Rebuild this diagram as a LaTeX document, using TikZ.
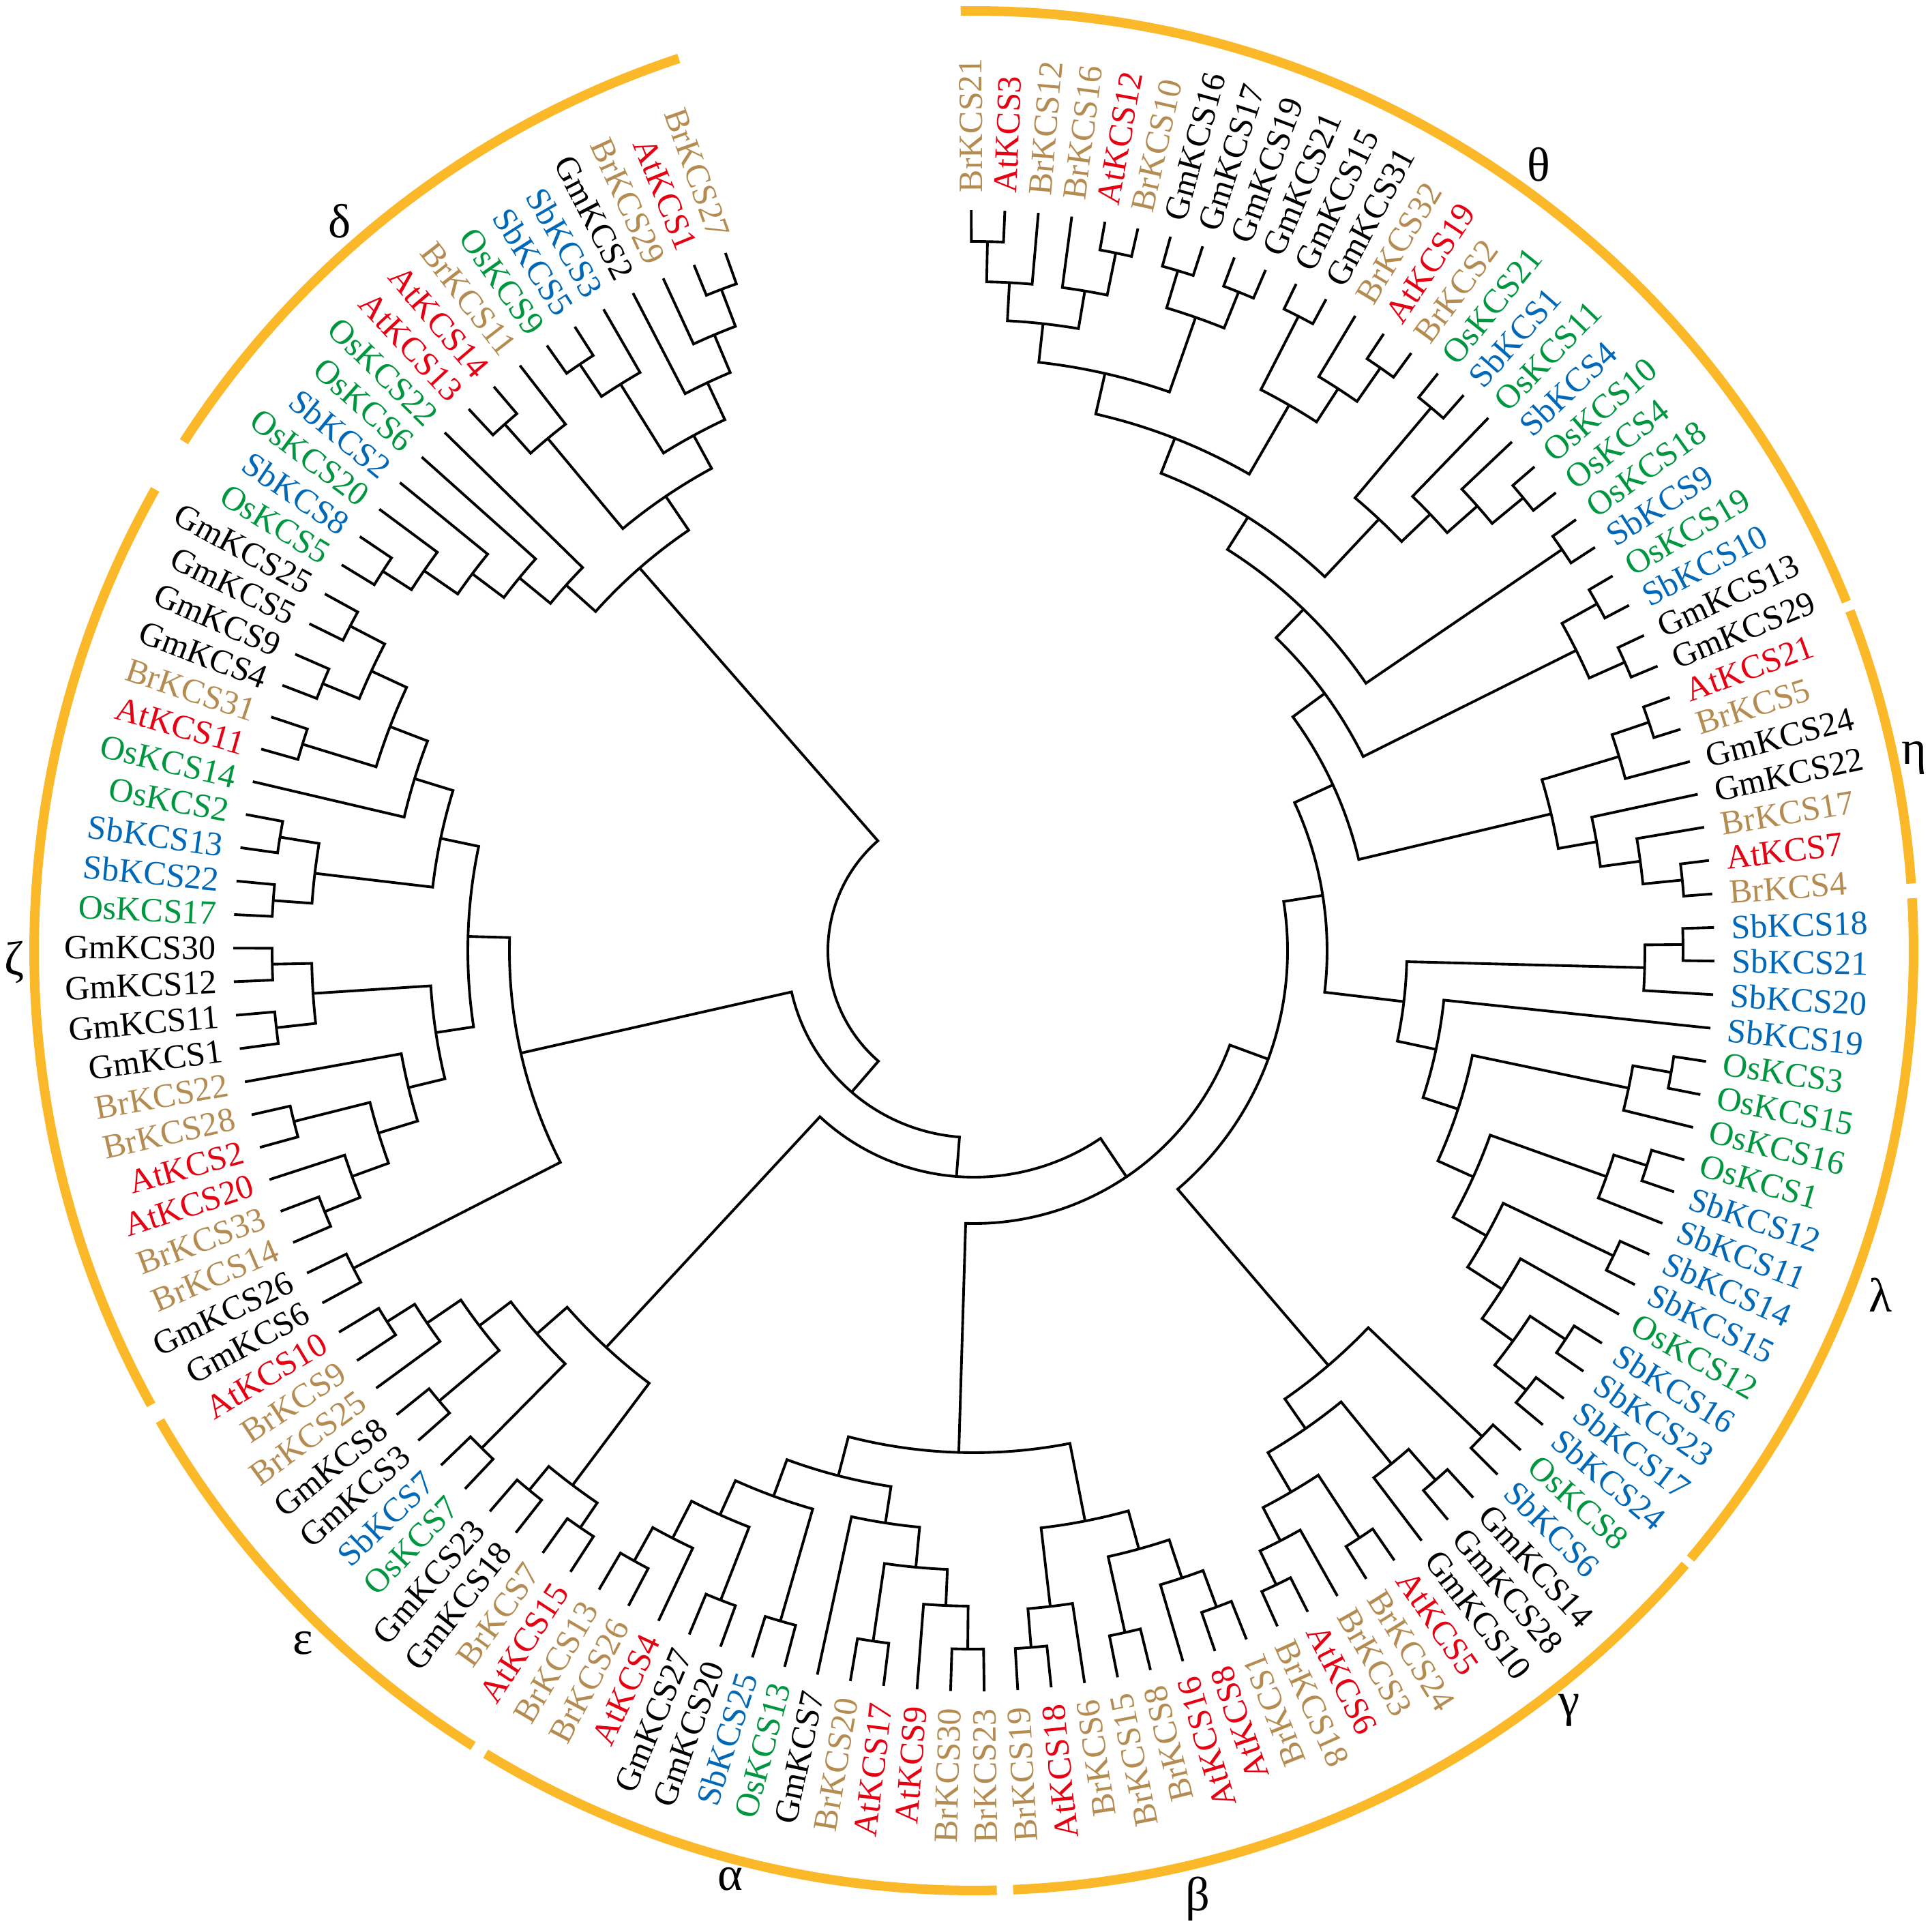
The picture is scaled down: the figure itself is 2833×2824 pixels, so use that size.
\documentclass[tikz,border=0pt]{standalone}
\usepackage{fontspec}
\setmainfont{Liberation Serif}
\definecolor{at}{RGB}{230,0,18}
\definecolor{br}{RGB}{180,140,82}
\definecolor{gm}{RGB}{0,0,0}
\definecolor{os}{RGB}{0,150,64}
\definecolor{sb}{RGB}{0,104,183}
\definecolor{ringc}{RGB}{251,184,41}
\newcommand\clade[4]{%
  \pgfmathsetmacro\angA{\csname ang#3\endcsname}%
  \pgfmathsetmacro\angB{\csname ang#4\endcsname}%
  \pgfmathsetmacro\radA{\csname rad#3\endcsname}%
  \pgfmathsetmacro\radB{\csname rad#4\endcsname}%
  \draw[branch] (\angA:\radA) -- (\angA:#2) arc[start angle=\angA, end angle=\angB, radius=#2] -- (\angB:\radB);%
  \pgfmathsetmacro\angM{(\angA+\angB)/2}%
  \expandafter\xdef\csname ang#1\endcsname{\angM}%
  \expandafter\xdef\csname rad#1\endcsname{#2}%
}
\newcommand\grouparc[2]{\draw[ring] (#1:1378) arc[start angle=#1, end angle=#2, radius=1378];}
\begin{document}
\begin{tikzpicture}[x=0.01cm, y=0.01cm,
    branch/.style={line width=1.1pt, line join=miter},
    leaf/.style={inner sep=0pt, font=\fontsize{14.2}{17}\selectfont},
    ring/.style={line width=0.14cm, ringc},
    grp/.style={inner sep=0pt, font=\fontsize{20}{24}\selectfont}]
\useasboundingbox (-1428,-1430) rectangle (1405,1394);
\foreach \name/\col [count=\i from 0] in {BrKCS21/br, AtKCS3/at, BrKCS12/br, BrKCS16/br, AtKCS12/at, BrKCS10/br, GmKCS16/gm, GmKCS17/gm, GmKCS19/gm, GmKCS21/gm, GmKCS15/gm, GmKCS31/gm, BrKCS32/br, AtKCS19/at, BrKCS2/br, OsKCS21/os, SbKCS1/sb, OsKCS11/os, SbKCS4/sb, OsKCS10/os, OsKCS4/os, OsKCS18/os, SbKCS9/sb, OsKCS19/os, SbKCS10/sb, GmKCS13/gm, GmKCS29/gm, AtKCS21/at, BrKCS5/br, GmKCS24/gm, GmKCS22/gm, BrKCS17/br, AtKCS7/at, BrKCS4/br, SbKCS18/sb, SbKCS21/sb, SbKCS20/sb, SbKCS19/sb, OsKCS3/os, OsKCS15/os, OsKCS16/os, OsKCS1/os, SbKCS12/sb, SbKCS11/sb, SbKCS14/sb, SbKCS15/sb, OsKCS12/os, SbKCS16/sb, SbKCS23/sb, SbKCS17/sb, SbKCS24/sb, OsKCS8/os, SbKCS6/sb, GmKCS14/gm, GmKCS28/gm, GmKCS10/gm, AtKCS5/at, BrKCS24/br, BrKCS3/br, AtKCS6/at, BrKCS18/br, BrKCS1/br, AtKCS8/at, AtKCS16/at, BrKCS8/br, BrKCS15/br, BrKCS6/br, AtKCS18/at, BrKCS19/br, BrKCS23/br, BrKCS30/br, AtKCS9/at, AtKCS17/at, BrKCS20/br, GmKCS7/gm, OsKCS13/os, SbKCS25/sb, GmKCS20/gm, GmKCS27/gm, AtKCS4/at, BrKCS26/br, BrKCS13/br, AtKCS15/at, BrKCS7/br, GmKCS18/gm, GmKCS23/gm, OsKCS7/os, SbKCS7/sb, GmKCS3/gm, GmKCS8/gm, BrKCS25/br, BrKCS9/br, AtKCS10/at, GmKCS6/gm, GmKCS26/gm, BrKCS14/br, BrKCS33/br, AtKCS20/at, AtKCS2/at, BrKCS28/br, BrKCS22/br, GmKCS1/gm, GmKCS11/gm, GmKCS12/gm, GmKCS30/gm, OsKCS17/os, SbKCS22/sb, SbKCS13/sb, OsKCS2/os, OsKCS14/os, AtKCS11/at, BrKCS31/br, GmKCS4/gm, GmKCS9/gm, GmKCS5/gm, GmKCS25/gm, OsKCS5/os, SbKCS8/sb, OsKCS20/os, SbKCS2/sb, OsKCS6/os, OsKCS22/os, AtKCS13/at, AtKCS14/at, BrKCS11/br, OsKCS9/os, SbKCS5/sb, SbKCS3/sb, GmKCS2/gm, BrKCS29/br, AtKCS1/at, BrKCS27/br} {
  \pgfmathsetmacro\ang{90.2-2.6*\i}
  \expandafter\xdef\csname angl\i\endcsname{\ang}
  \expandafter\xdef\csname radl\i\endcsname{1086}
  \ifnum\i<61
    \node[leaf, text=\col, anchor=west, rotate=\ang] (n\i) at (\ang:1111) {\name};
  \else
    \node[leaf, text=\col, anchor=east, rotate=\ang+180] (n\i) at (\ang:1111) {\name};
  \fi
}
% theta
\clade{t1}{1040}{l0}{l1}
\clade{t2}{981}{t1}{l2}
\clade{t3}{1044}{l4}{l5}
\clade{t4}{981}{l3}{t3}
\clade{t5}{925}{t2}{t4}
\clade{t6}{1041}{l6}{l7}
\clade{t7}{1041}{l8}{l9}
\clade{t8}{984}{t6}{t7}
\clade{t9}{868}{t5}{t8}
\clade{t11}{1045}{l10}{l11}
\clade{t12}{1042}{l13}{l14}
\clade{t13}{982}{l12}{t12}
\clade{t14}{924}{t11}{t13}
\clade{t10}{807}{t9}{t14}
\clade{t17}{1041}{l15}{l16}
\clade{t18}{1044}{l19}{l20}
\clade{t19}{985}{l18}{t18}
\clade{t20}{926}{l17}{t19}
\clade{t21}{868}{t17}{t20}
\clade{t16}{752}{t10}{t21}
\clade{t24}{1044}{l21}{l22}
\clade{k2}{696}{t16}{t24}
\clade{t25}{1046}{l23}{l24}
\clade{t27}{1044}{l25}{l26}
\clade{t26}{987}{t25}{t27}
\clade{k3}{638}{k2}{t26}
% eta
\clade{h3}{1045}{l27}{l28}
\clade{h1}{988}{h3}{l29}
\clade{h5}{1044}{l32}{l33}
\clade{h4}{986}{l31}{h5}
\clade{h2}{927}{l30}{h4}
\clade{h0}{870}{h1}{h2}
\clade{k4}{580}{k3}{h0}
% lambda
\clade{m1}{1040}{l34}{l35}
\clade{m2}{984}{m1}{l36}
\clade{m7}{1038}{l38}{l39}
\clade{m5}{981}{m7}{l40}
\clade{m9}{1036}{l41}{l42}
\clade{m8}{985}{m9}{l43}
\clade{m14}{1039}{l44}{l45}
\clade{m11}{1038}{l47}{l48}
\clade{m16}{1035}{l49}{l50}
\clade{m12}{976}{m11}{m16}
\clade{m20}{920}{l46}{m12}
\clade{m15}{860}{m14}{m20}
\clade{m6}{804}{m8}{m15}
\clade{m4}{747}{m5}{m6}
\clade{m3}{693}{l37}{m4}
\clade{m0}{635}{m2}{m3}
\clade{k5}{518}{k4}{m0}
% gamma
\clade{m13}{1031}{l51}{l52}
\clade{g1}{1030}{l53}{l54}
\clade{g2}{970}{g1}{l55}
\clade{g3}{1030}{l56}{l57}
\clade{g5}{1030}{l59}{l60}
\clade{g6}{975}{l58}{g5}
\clade{g7}{920}{g3}{g6}
\clade{g8}{853}{g2}{g7}
\clade{g0}{800}{m13}{g8}
\clade{kf}{460}{k5}{g0}
% beta
\clade{c7}{1026}{l61}{l62}
\clade{c6}{969}{c7}{l63}
\clade{c5}{1024}{l64}{l65}
\clade{c4}{910}{c6}{c5}
\clade{c1}{1025}{l67}{l68}
\clade{c2}{968}{l66}{c1}
\clade{c3}{852}{c4}{c2}
% alpha
\clade{b1}{1024}{l69}{l70}
\clade{b2}{961}{b1}{l71}
\clade{b3}{1023}{l72}{l73}
\clade{b4}{908}{b2}{b3}
\clade{b5}{849}{b4}{l74}
\clade{b6}{1023}{l75}{l76}
\clade{b8}{1022}{l77}{l78}
\clade{b9}{1024}{l80}{l81}
\clade{b10}{968}{l79}{b9}
\clade{b12}{907}{b8}{b10}
\clade{bx}{852}{b6}{b12}
\clade{b7}{795}{b5}{bx}
\clade{ab}{736}{c3}{b7}
\clade{kd}{400}{kf}{ab}
% epsilon
\clade{e1}{1018}{l91}{l92}
\clade{e2}{970}{l90}{e1}
\clade{e3}{1025}{l88}{l89}
\clade{e4}{910}{e3}{e2}
\clade{e5}{1026}{l86}{l87}
\clade{e6}{852}{e5}{e4}
\clade{e7}{1025}{l84}{l85}
\clade{e8}{1024}{l82}{l83}
\clade{e9}{980}{e8}{e7}
\clade{e0}{793}{e9}{e6}
\clade{k1}{332}{kd}{e0}
% zeta
\clade{z2}{1026}{l95}{l96}
\clade{z3}{970}{z2}{l97}
\clade{z4}{1028}{l98}{l99}
\clade{z5}{913}{z3}{z4}
\clade{z6}{853}{z5}{l100}
\clade{z8}{1029}{l101}{l102}
\clade{z9}{1029}{l103}{l104}
\clade{z10}{971}{z8}{z9}
\clade{z7}{798}{z6}{z10}
\clade{z14}{1030}{l105}{l106}
\clade{z13}{1031}{l107}{l108}
\clade{z12}{973}{z14}{z13}
\clade{z15}{1030}{l110}{l111}
\clade{z16}{1032}{l112}{l113}
\clade{z18}{1031}{l114}{l115}
\clade{z17}{974}{z16}{z18}
\clade{z24}{917}{z15}{z17}
\clade{z25}{858}{l109}{z24}
\clade{zx}{799}{z12}{z25}
\clade{z1}{742}{z7}{zx}
\clade{z11}{1022}{l93}{l94}
\clade{z0}{681}{z11}{z1}
\clade{k0}{274}{k1}{z0}
% delta
\clade{z19}{1030}{l116}{l117}
\clade{z20}{980}{z19}{l118}
\clade{z21}{920}{z20}{l119}
\clade{z22}{862}{z21}{l120}
\clade{z23}{803}{z22}{l121}
\clade{d1}{1034}{l122}{l123}
\clade{d2}{977}{d1}{l124}
\clade{d3}{1036}{l125}{l126}
\clade{d4}{979}{d3}{l127}
\clade{d5}{1038}{l130}{l131}
\clade{d6}{980}{l129}{d5}
\clade{d7}{920}{l128}{d6}
\clade{d8}{860}{d4}{d7}
\clade{d9}{805}{d2}{d8}
\clade{dz}{745}{z23}{d9}
\clade{root}{214}{k0}{dz}
% groups
\grouparc{90.8}{21.8}
\grouparc{21.2}{4.1}
\grouparc{3.2}{-40.3}
\grouparc{-40.8}{-67.0}
\grouparc{-66.3}{-87.6}
\grouparc{-88.6}{-121.3}
\grouparc{-122.2}{-150.0}
\grouparc{-151.1}{-209.4}
\grouparc{-212.8}{-251.7}
\node[grp] (gtheta) at (54.3:1419) {θ};
\node[grp] (geta) at (11.6:1408) {η};
\node[grp] (glambda) at (-20.8:1422) {λ};
\node[grp] (ggamma) at (-51.9:1415) {γ};
\node[grp] (gbeta) at (-76.7:1429) {β};
\node[grp] (galpha) at (-104.7:1407) {α};
\node[grp] (geps) at (-134.1:1414) {ε};
\node[grp] (gzeta) at (-179.3:1407) {ζ};
\node[grp] (gdelta) at (131:1417) {δ};
\end{tikzpicture}
\end{document}
